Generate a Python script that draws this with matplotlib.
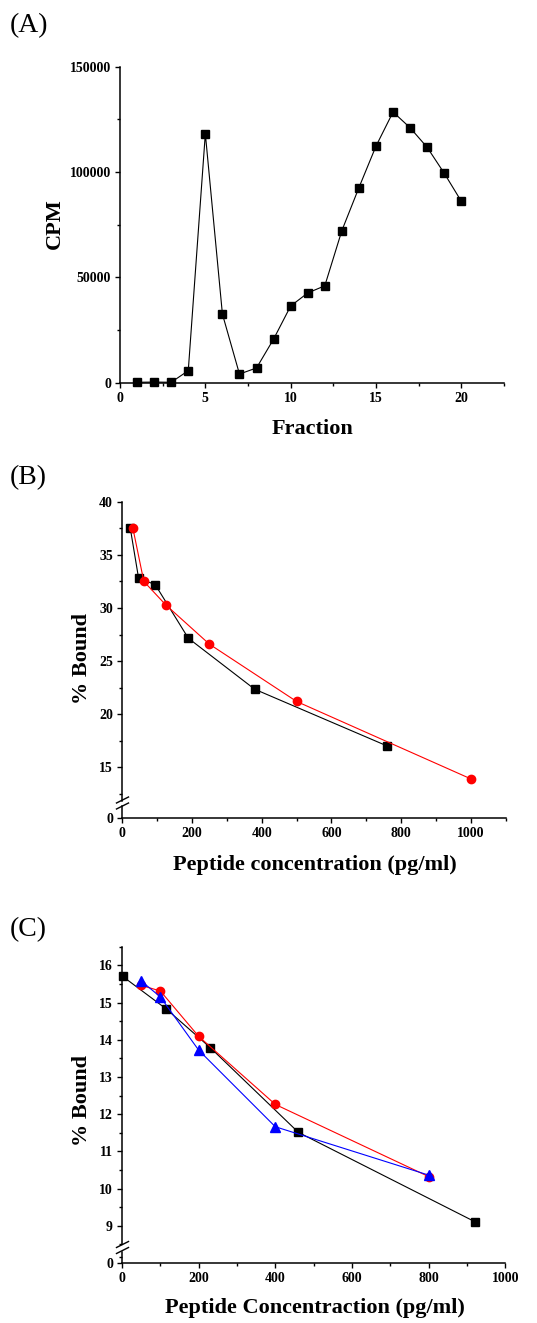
import matplotlib
matplotlib.use("Agg")
import matplotlib.pyplot as plt
from matplotlib.ticker import MultipleLocator, FixedLocator
from matplotlib.lines import Line2D

plt.rcParams["font.family"] = ["Liberation Serif", "DejaVu Serif"]
plt.rcParams["font.weight"] = "bold"

W, H = 537, 1323  # px

# (A) fraction profile
fraction = [1, 2, 3, 4, 5, 6, 7, 8, 9, 10, 11, 12, 13, 14, 15, 16, 17, 18, 19, 20]
cpm = [200, 300, 200, 5700, 118200, 32600, 4100, 7000, 20700, 36400,
       42600, 46000, 72200, 92600, 112300, 128500, 121000, 111700, 99400, 86100]

# (B) binding curves
b_conc_black = [23.75, 47.5, 95, 190, 380, 760]
b_bound_black = [37.5, 32.8, 32.2, 27.15, 22.35, 17.0]
b_conc_red = [31.25, 62.5, 125, 250, 500, 1000]
b_bound_red = [37.5, 32.5, 30.3, 26.6, 21.2, 13.9]

# (C) binding curves
c_conc_black = [2, 115, 230, 460, 920]
c_bound_black = [15.7, 14.83, 13.79, 11.51, 9.11]
c_conc_red = [50, 100, 200, 400, 800]
c_bound_red = [15.46, 15.31, 14.09, 12.26, 10.32]
c_conc_blue = [50, 100, 200, 400, 800]
c_bound_blue = [15.58, 15.15, 13.72, 11.66, 10.36]


def rect(l, t, r, b):
    # pixel box (from top-left) -> figure fraction
    return [l / W, 1 - b / H, (r - l) / W, (b - t) / H]


def style(ax, bottom=True):
    for s in ["top", "right"]:
        ax.spines[s].set_visible(False)
    ax.spines["bottom"].set_visible(bottom)
    for s in ["left", "bottom"]:
        ax.spines[s].set_linewidth(1.1)
    ax.tick_params(which="major", direction="out", length=3.5, width=1.0,
                   labelsize=10, pad=3)
    ax.tick_params(which="minor", direction="out", length=2.2, width=1.0)
    if not bottom:
        ax.tick_params(axis="x", which="both", bottom=False, labelbottom=False)
    ax.patch.set_alpha(0)


def brk(fig, x, y):
    # the // mark on a broken y axis
    for dy in (0, 6):
        fig.add_artist(Line2D([(x - 6) / W, (x + 6) / W],
                              [1 - (y + 3 + dy) / H, 1 - (y - 3 + dy) / H],
                              color="black", lw=1.0))


fig = plt.figure(figsize=(W / 100, H / 100), dpi=100)

# ---------------- (A)
ax = fig.add_axes(rect(120, 66.7, 504, 382.7))
style(ax)
ax.plot(fraction, cpm, color="black", lw=0.8, marker="s", ms=5.5, clip_on=False)
ax.set_xlim(0, 22.5)
ax.set_ylim(0, 150000)
ax.xaxis.set_major_locator(MultipleLocator(5))
ax.xaxis.set_minor_locator(MultipleLocator(2.5))
ax.yaxis.set_major_locator(MultipleLocator(50000))
ax.yaxis.set_minor_locator(MultipleLocator(25000))
fig.text(312 / W, 1 - 429 / H, "Fraction", ha="center", va="center", fontsize=16)
fig.text(55 / W, 1 - 224 / H, "CPM", ha="center", va="center", fontsize=16, rotation=90)
fig.text(10 / W, 1 - 26 / H, "(A)", ha="left", va="center", fontsize=20, fontweight="normal")

# ---------------- (B)
axb = fig.add_axes(rect(122, 501.7, 506, 800.5))
style(axb, bottom=False)
axb.plot(b_conc_black, b_bound_black, color="black", lw=0.8, marker="s", ms=5.5)
axb.plot(b_conc_red, b_bound_red, color="red", lw=0.8, marker="o", ms=6)
axb.set_xlim(0, 1100)
axb.set_ylim(11.875, 40)
axb.yaxis.set_major_locator(MultipleLocator(5))
axb.yaxis.set_minor_locator(MultipleLocator(2.5))

axb2 = fig.add_axes(rect(122, 806, 506, 818.3))
style(axb2)
axb2.set_xlim(0, 1100)
axb2.set_ylim(0, 1)
axb2.yaxis.set_major_locator(FixedLocator([0]))
axb2.xaxis.set_major_locator(MultipleLocator(200))
axb2.xaxis.set_minor_locator(MultipleLocator(100))
brk(fig, 122.5, 800)
fig.text(315 / W, 1 - 865 / H, "Peptide concentration (pg/ml)", ha="center", va="center", fontsize=16)
fig.text(81.7 / W, 1 - 658 / H, "% Bound", ha="center", va="center", fontsize=16, rotation=90)
fig.text(10 / W, 1 - 478 / H, "(B)", ha="left", va="center", fontsize=20, fontweight="normal")

# ---------------- (C)
axc = fig.add_axes(rect(122, 946.7, 505.3, 1244.3))
style(axc, bottom=False)
axc.plot(c_conc_black, c_bound_black, color="black", lw=0.8, marker="s", ms=5.5, clip_on=False)
axc.plot(c_conc_red, c_bound_red, color="red", lw=0.8, marker="o", ms=6)
axc.plot(c_conc_blue, c_bound_blue, color="blue", lw=0.8, marker="^", ms=6.5)
axc.set_xlim(0, 1000)
axc.set_ylim(8.5, 16.5)
axc.yaxis.set_major_locator(MultipleLocator(1))
axc.yaxis.set_minor_locator(MultipleLocator(0.5))

axc2 = fig.add_axes(rect(122, 1251.5, 505.3, 1263))
style(axc2)
axc2.set_xlim(0, 1000)
axc2.set_ylim(0, 0.9)
axc2.yaxis.set_major_locator(FixedLocator([0]))
axc2.yaxis.set_minor_locator(FixedLocator([0.5]))
axc2.xaxis.set_major_locator(MultipleLocator(200))
axc2.xaxis.set_minor_locator(MultipleLocator(100))
brk(fig, 122.5, 1244.5)
fig.text(315 / W, 1 - 1308 / H, "Peptide Concentraction (pg/ml)", ha="center", va="center", fontsize=16)
fig.text(81.7 / W, 1 - 1101 / H, "% Bound", ha="center", va="center", fontsize=16, rotation=90)
fig.text(10 / W, 1 - 930 / H, "(C)", ha="left", va="center", fontsize=20, fontweight="normal")

fig.savefig("out.png", dpi=100)
